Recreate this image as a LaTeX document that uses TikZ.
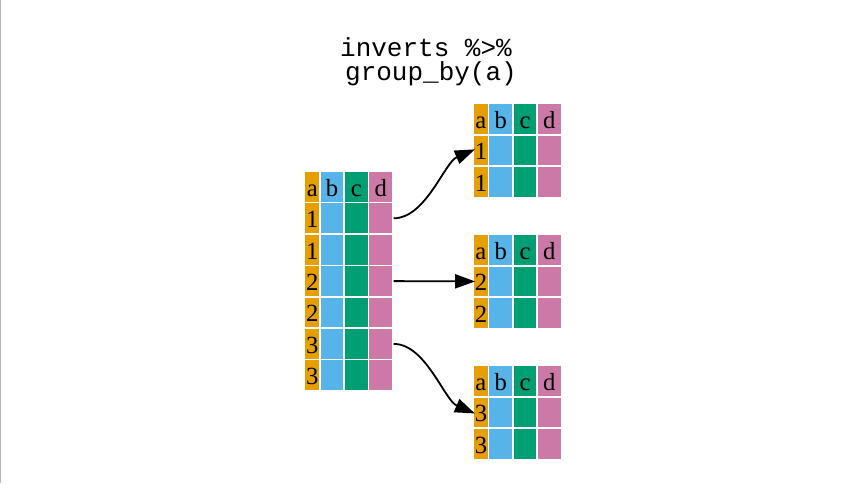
\documentclass[tikz,border=0pt]{standalone}
\usepackage{fontspec}
\setmainfont{Liberation Serif}
\setmonofont{Liberation Mono}
\usetikzlibrary{arrows.meta}
\definecolor{colA}{HTML}{E69F00}
\definecolor{colB}{HTML}{56B4E9}
\definecolor{colC}{HTML}{009E73}
\definecolor{colD}{HTML}{CC79A7}
\tikzset{
    cell/.style={rectangle, inner sep=0mm, draw=white, line width=1.2pt,
        minimum height=23.55pt, text height=14pt, text depth=0pt,
        font=\fontsize{18.5}{20}\selectfont},
    cola/.style={cell, fill=colA, minimum width=11.5pt},
    colb/.style={cell, fill=colB, minimum width=18.2pt},
    colc/.style={cell, fill=colC, minimum width=18.2pt},
    cold/.style={cell, fill=colD, minimum width=18.2pt},
    title/.style={anchor=base, inner sep=0mm, font=\fontsize{19.5}{23}\ttfamily},
    arr/.style={-{Triangle[length=15pt, width=10.5pt]}, line width=1.35pt, shorten >=-2pt}
}

\begin{document}
\begin{tikzpicture}[x=0.75pt, y=-0.75pt]
    \path[fill=white] (0,0) rectangle (862,483);
    \useasboundingbox (0,0) rectangle (862,483);
    \draw[black!27, line width=1.2pt] (0.6,0) -- (0.6,483);

    \node (t1) [title] at (426,56.5) {inverts \%>\%};
    \node (t2) [title] at (431,80) {group\_by(a)};

    % ungrouped table
    \node (la0) [cola] at (312.35,186.9) {a};
    \node (lb0) [colb] at (332.15,186.9) {b};
    \node (lc0) [colc] at (356.45,186.9) {c};
    \node (ld0) [cold] at (380.75,186.9) {d};
    \foreach \v [count=\r] in {1,1,2,2,3,3} {
        \pgfmathsetmacro{\yc}{186.9+31.4*\r}
        \node (la\r) [cola] at (312.35,\yc) {\v};
        \node (lb\r) [colb] at (332.15,\yc) {};
        \node (lc\r) [colc] at (356.45,\yc) {};
        \node (ld\r) [cold] at (380.75,\yc) {};
    }

    % one table per group
    \foreach \t/\yh/\v in {t/119/1, m/250/2, b/381/3} {
        \node (\t a0) [cola] at (480.95,\yh) {a};
        \node (\t b0) [colb] at (500.75,\yh) {b};
        \node (\t c0) [colc] at (525.05,\yh) {c};
        \node (\t d0) [cold] at (549.35,\yh) {d};
        \foreach \r in {1,2} {
            \pgfmathsetmacro{\yc}{\yh+31.4*\r}
            \node (\t a\r) [cola] at (480.95,\yc) {\v};
            \node (\t b\r) [colb] at (500.75,\yc) {};
            \node (\t c\r) [colc] at (525.05,\yc) {};
            \node (\t d\r) [cold] at (549.35,\yc) {};
        }
    }

    \draw[arr] (ld1.east) .. controls +(32,0) and +(-28,12) .. (ta1.west);
    \draw[arr] (ld3.east) -- (ma1.west);
    \draw[arr] (ld5.east) .. controls +(32,0) and +(-28,-12) .. (ba1.west);
\end{tikzpicture}
\end{document}
